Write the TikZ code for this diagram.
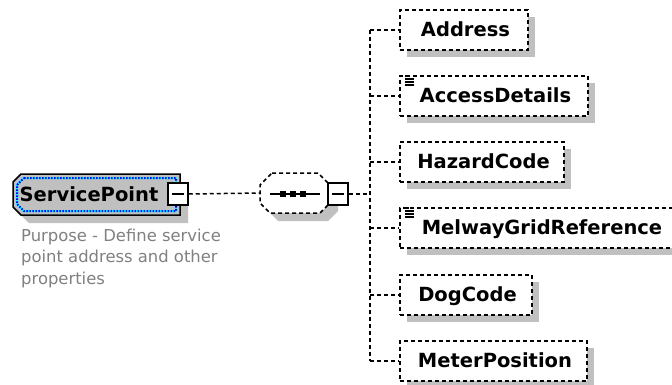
\documentclass[tikz,border=0pt]{standalone}
\usepackage{fontspec}
\setmainfont{DejaVu Sans}
\definecolor{shadowgray}{RGB}{192,192,192}
\definecolor{desccol}{RGB}{128,128,128}
\definecolor{selblue}{RGB}{0,0,255}
\definecolor{selcyan}{RGB}{0,255,255}
\begin{document}
\begin{tikzpicture}[x=1pt,y=-1pt,
  dline/.style={dash pattern=on 4pt off 3pt, line width=1.5pt},
  lbl/.style={font=\bfseries\fontsize{19.5}{23}\selectfont, inner sep=0pt, anchor=base},
  desc/.style={font=\fontsize{16.4}{20}\selectfont, text=desccol, inner sep=0pt, anchor=base west},
  elbox/.style={draw, dline, fill=white, inner sep=0pt, minimum height=40pt, anchor=west},
  minusbox/.style={draw, line width=1.5pt, fill=white, inner sep=0pt, minimum width=20pt, minimum height=22pt}
]
\useasboundingbox (0,0) rectangle (672,385);

% ---- ServicePoint element ----
\fill[shadowgray] (29,182) -- (188,182) -- (188,223) -- (29,223) -- (21,215) -- (21,190) -- cycle;
\draw[fill=shadowgray, line width=1.5pt] (21,174) -- (180,174) -- (180,215) -- (21,215) -- (13,207) -- (13,182) -- cycle;
\draw[selcyan, line width=2pt] (24,178) -- (176,178) -- (176,211) -- (24,211) -- (17,204) -- (17,185) -- cycle;
\draw[selblue, line width=2pt, dash pattern=on 1.5pt off 1.5pt] (24,178) -- (176,178) -- (176,211) -- (24,211) -- (17,204) -- (17,185) -- cycle;
\node[lbl] (sp) at (89,201.5) {ServicePoint};
\node[minusbox] (spm) at (178,194) {};
\draw[line width=1.5pt] ([xshift=-6pt]spm.center) -- ([xshift=6pt]spm.center);

\node[desc] (d1) at (21,241) {Purpose - Define service};
\node[desc] (d2) at (21,262.5) {point address and other};
\node[desc] (d3) at (21,284) {properties};

% ---- sequence compositor ----
\fill[shadowgray] (280,181) -- (326,181) -- (338,193) -- (338,211) -- (328,221) -- (278,221) -- (268,211) -- (268,193) -- cycle;
\draw[dline, fill=white] (272,173) -- (318,173) -- (330,185) -- (330,203) -- (320,213) -- (270,213) -- (260,203) -- (260,185) -- cycle;
\node[inner sep=0pt, minimum width=70pt, minimum height=40pt] (seq) at (295,193) {};
\draw[line width=1.5pt] (270,194) -- (320,194);
\foreach \sx in {283,293,303} \fill (\sx-2.8,191.2) rectangle (\sx+2.8,196.8);
\node[minusbox] (seqm) at (338,194) {};
\draw[line width=1.5pt] ([xshift=-6pt]seqm.center) -- ([xshift=6pt]seqm.center);

\draw[dline] (spm.east) -- (seq.west);
\coordinate (jmid) at (370,194);
\draw[dline] (seqm.east) -- (jmid);

% ---- child elements ----
\foreach \n/\cy/\r/\t/\ic in {addr/30/527/Address/0, acc/96/587/AccessDetails/1, haz/162/563/HazardCode/0, mel/228/680/MelwayGridReference/1, dog/295/531/DogCode/0, met/361/586/MeterPosition/0}{
  \fill[shadowgray] (407,\cy-13) rectangle (\r+8,\cy+27);
  \node[elbox, minimum width={\r-399}] (\n) at (399,\cy) {};
  \node[lbl] (\n-t) at ({(419+\r-15)/2},\cy+6.5) {\t};
  \ifnum\ic=1
    \draw[line width=1.5pt] (405,\cy-20) -- (409,\cy-20)
      (405,\cy-17) -- (414,\cy-17) (405,\cy-14) -- (414,\cy-14) (405,\cy-11) -- (414,\cy-11);
  \fi
  \coordinate (j-\n) at (370,\cy);
  \draw[dline] (j-\n) -- (\n.west);
}
\draw[dline] (j-addr) -- (j-met);
\end{tikzpicture}
\end{document}
